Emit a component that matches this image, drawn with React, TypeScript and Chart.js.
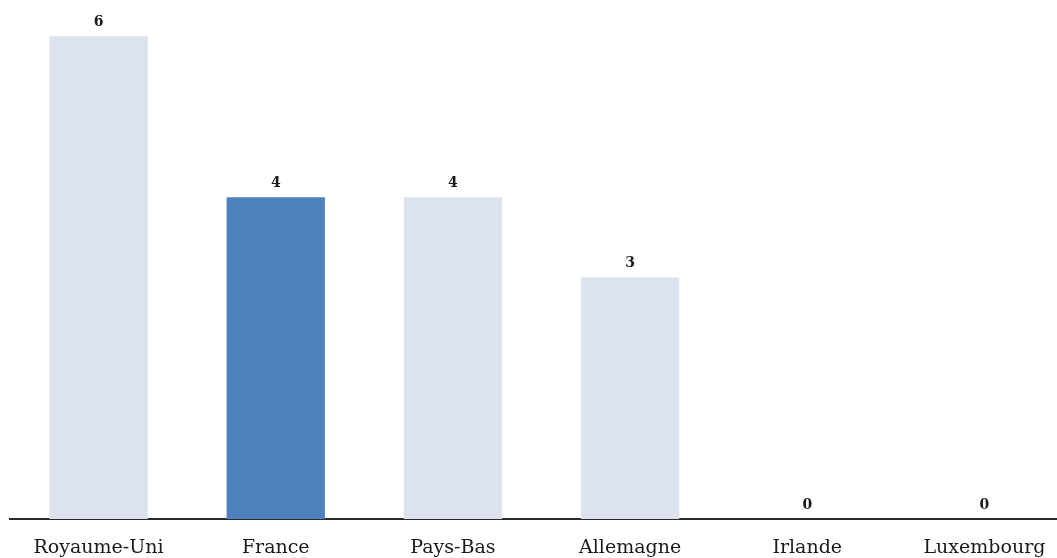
import React, { useEffect, useRef } from "react";
import { Chart, registerables } from "chart.js";

Chart.register(...registerables);

const categories = ["Royaume-Uni", "France", "Pays-Bas", "Allemagne", "Irlande", "Luxembourg"];
const values = [6, 4, 4, 3, 0, 0];
const highlighted = ["France"];

const LIGHT = "#DCE3EE";
const DARK = "#4F81BD";

const valueLabels = {
  id: "valueLabels",
  afterDatasetsDraw(chart: any) {
    const ctx = chart.ctx;
    const meta = chart.getDatasetMeta(0);
    ctx.save();
    ctx.font = "bold 14px 'DejaVu Serif'";
    ctx.fillStyle = "#1a1a1a";
    ctx.textAlign = "center";
    ctx.textBaseline = "bottom";
    meta.data.forEach((bar: any, i: number) => {
      ctx.fillText(String(values[i]), bar.x, bar.y - 7);
    });
    ctx.restore();
  },
};

export default function App() {
  const ref = useRef<HTMLCanvasElement>(null);
  useEffect(() => {
    document.body.style.margin = "0";
    const chart = new Chart(ref.current!, {
      type: "bar",
      data: {
        labels: categories,
        datasets: [
          {
            data: values,
            backgroundColor: categories.map((c) => (highlighted.includes(c) ? DARK : LIGHT)),
            categoryPercentage: 1,
            barPercentage: 0.555,
          },
        ],
      },
      options: {
        animation: false,
        responsive: false,
        maintainAspectRatio: false,
        layout: { padding: { left: 10, right: 0, top: 0, bottom: 0 } },
        plugins: { legend: { display: false }, tooltip: { enabled: false } },
        scales: {
          y: { display: false, min: 0, max: 6.45 },
          x: {
            grid: { display: false, drawTicks: false },
            border: { display: true, color: "#2a2a2a", width: 2 },
            ticks: {
              color: "#1a1a1a",
              padding: 18,
              font: { family: "'DejaVu Serif'", size: 19 },
              maxRotation: 0,
              autoSkip: false,
            },
            afterFit: (scale: any) => {
              scale.height = 39;
            },
          },
        },
      },
      plugins: [valueLabels],
    });
    return () => chart.destroy();
  }, []);
  return (
    <div style={{ position: "relative", width: 1057, height: 558, overflow: "hidden" }}>
      <canvas ref={ref} width={1073} height={558} style={{ position: "absolute", left: 0, top: 0 }} />
    </div>
  );
}
